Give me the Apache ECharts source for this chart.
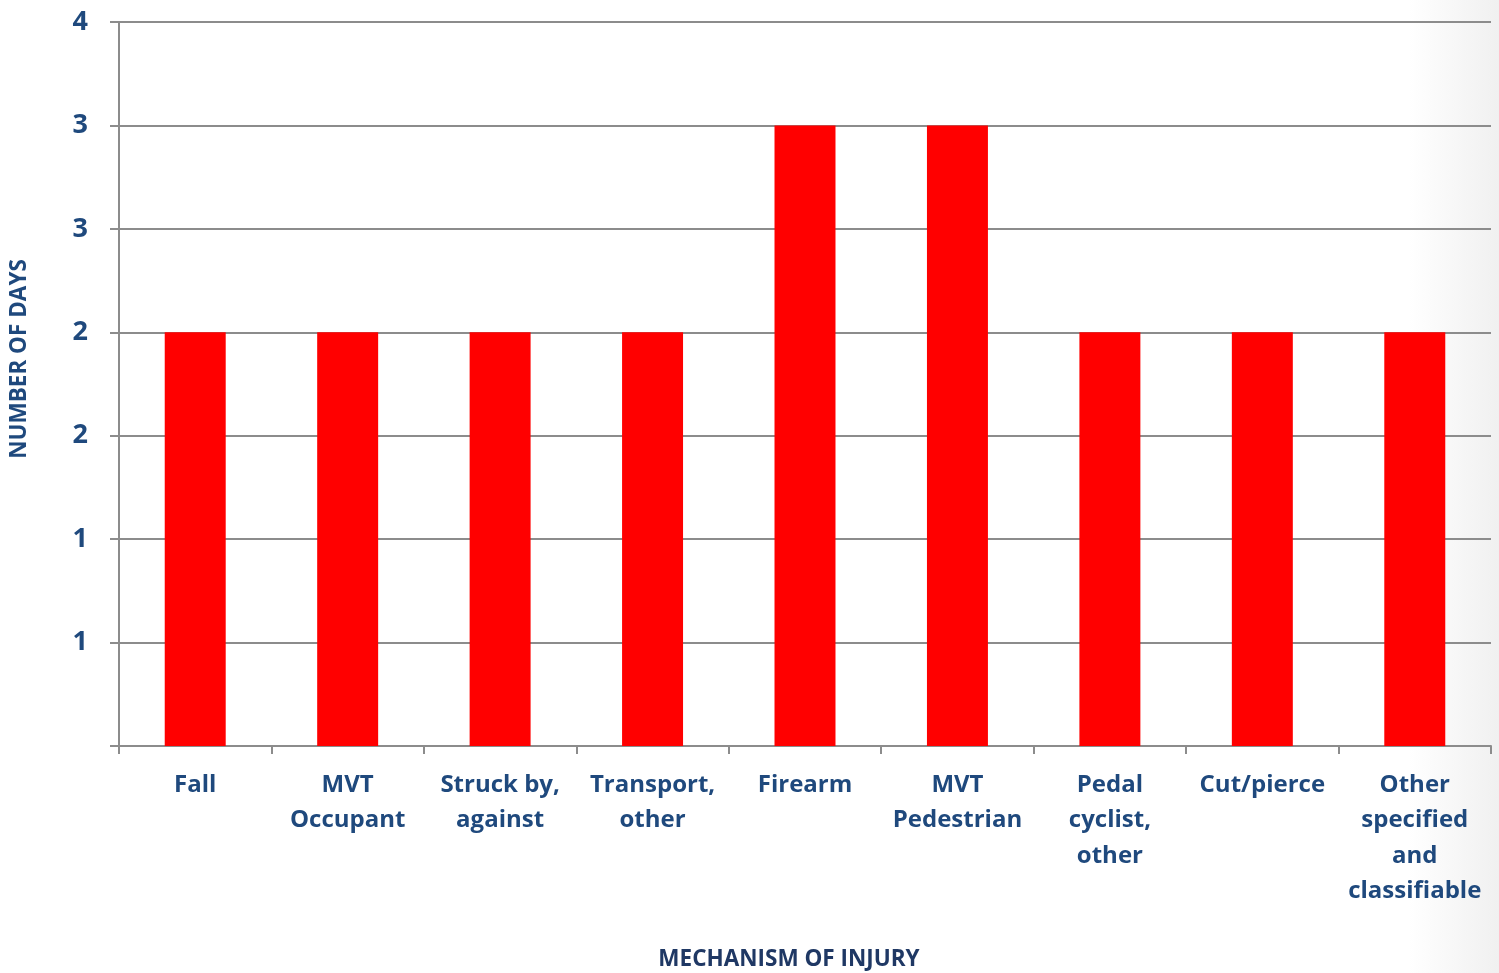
<!DOCTYPE html>
<html>
<head>
<meta charset="utf-8">
<script src="https://cdn.jsdelivr.net/npm/echarts@6/dist/echarts.min.js"></script>
<style>
html,body{margin:0;padding:0;}
body{background:linear-gradient(to right,#ffffff 0%,#ffffff 94%,#f0f0f0 100%);}
#chart{width:1499px;height:973px;}
</style>
</head>
<body>
<div id="chart"></div>
<script>
var categories = ['Fall', 'MVT\nOccupant', 'Struck by,\nagainst', 'Transport,\nother', 'Firearm', 'MVT\nPedestrian', 'Pedal\ncyclist,\nother', 'Cut/pierce', 'Other\nspecified\nand\nclassifiable'];
var values = [2, 2, 2, 2, 3, 3, 2, 2, 2];
var yTitle = 'NUMBER OF DAYS';
var xTitle = 'MECHANISM OF INJURY';

var labelColor = '#1F497D';
var gridColor = '#8C8C8C';
var font = '"Open Sans", Lato, sans-serif';

var chart = echarts.init(document.getElementById('chart'), null, {renderer: 'canvas'});
chart.setOption({
  backgroundColor: 'transparent',
  animation: false,
  grid: {left: 119, right: 8, top: 22, bottom: 227, containLabel: false},
  xAxis: {
    type: 'category',
    data: categories,
    axisLine: {show: true, lineStyle: {color: gridColor, width: 2}},
    axisTick: {show: true, alignWithLabel: false, length: 8, lineStyle: {color: gridColor, width: 2}},
    axisLabel: {
      interval: 0, margin: 21, color: labelColor, fontFamily: font, fontWeight: 'bold',
      fontSize: 24, lineHeight: 35.5, align: 'center'
    }
  },
  yAxis: {
    type: 'value',
    min: 0, max: 3.5, interval: 0.5,
    axisLine: {show: true, lineStyle: {color: gridColor, width: 2}},
    axisTick: {show: true, length: 9, lineStyle: {color: gridColor, width: 2}},
    splitLine: {show: true, lineStyle: {color: gridColor, width: 2}},
    axisLabel: {
      margin: 31, color: labelColor, fontFamily: font, fontWeight: 'bold', fontSize: 27,
      formatter: function (v) { return v === 0 ? '' : String(Math.round(v)); }
    }
  },
  series: [{
    type: 'bar',
    data: values,
    barWidth: '40%',
    itemStyle: {color: '#FF0000'}
  }],
  graphic: [
    {type: 'text', x: 789, y: 960, style: {text: xTitle, fill: '#1F3864', font: 'bold 22.5px ' + font, align: 'center', verticalAlign: 'middle'}, z: 10},
    {type: 'text', x: 20, y: 359, rotation: Math.PI / 2, style: {text: yTitle, fill: labelColor, font: 'bold 22.5px ' + font, align: 'center', verticalAlign: 'middle'}, z: 10}
  ]
});
</script>
</body>
</html>
